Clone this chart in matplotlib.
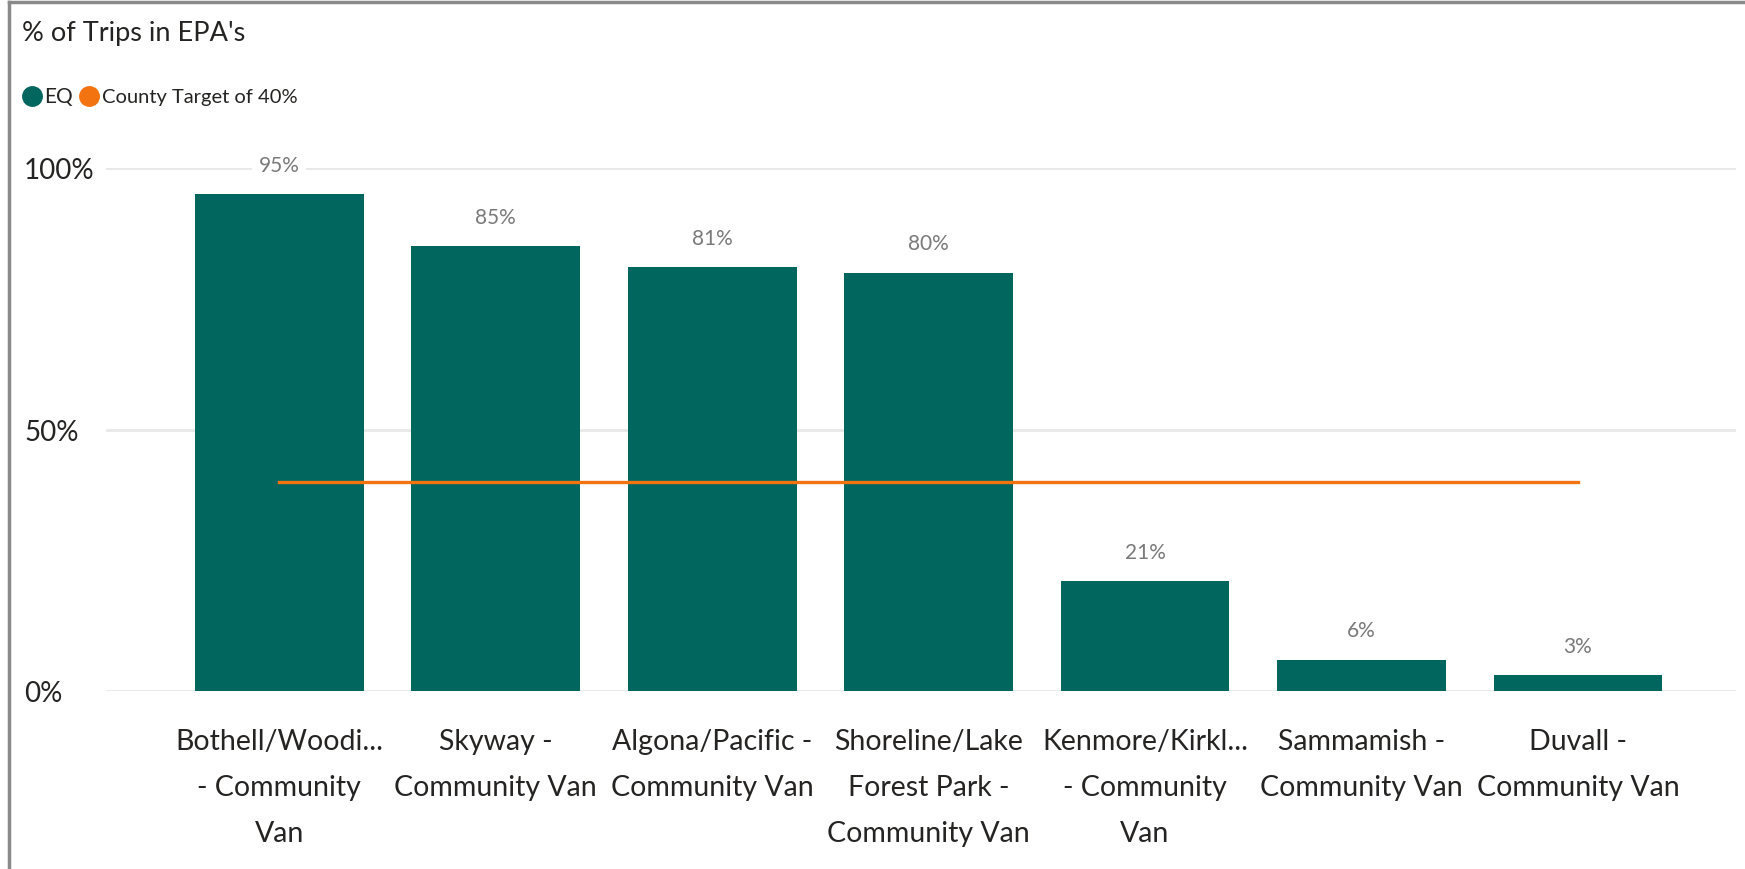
"""
% of Trips in EPA's - community van bar chart with county target line
"""
import matplotlib.pyplot as plt
from matplotlib.lines import Line2D

routes = ["Bothell/Woodi...\n- Community\nVan",
          "Skyway -\nCommunity Van",
          "Algona/Pacific -\nCommunity Van",
          "Shoreline/Lake\nForest Park -\nCommunity Van",
          "Kenmore/Kirkl...\n- Community\nVan",
          "Sammamish -\nCommunity Van",
          "Duvall -\nCommunity Van"]
eq_pct = [95, 85, 81, 80, 21, 6, 3]
target_pct = [40, 40, 40, 40, 40, 40, 40]
y_ticks = [0, 50, 100]

TEAL = "#01665e"
ORANGE = "#f2730f"
TEXT = "#252423"

plt.rcParams['font.family'] = ['Lato', 'DejaVu Sans']

W, H = 1745, 870
fig = plt.figure(figsize=(W / 100, H / 100), dpi=100)
ax = fig.add_axes([106 / W, (H - 692) / H, (1736 - 106) / W, (692 - 169) / H])

x = list(range(len(routes)))
bars = ax.bar(x, eq_pct, width=0.78, color=TEAL, zorder=2)
ax.plot(x, target_pct, color=ORANGE, linewidth=2.4, zorder=3)

for rect, val in zip(bars, eq_pct):
    ax.annotate(f"{val}%", (rect.get_x() + rect.get_width() / 2, val),
                xytext=(0, 14), textcoords="offset points",
                ha="center", va="bottom", fontsize=15, color="#7a7a7a",
                bbox=dict(boxstyle="square,pad=0.3", fc="white", ec="none"),
                zorder=4, annotation_clip=False)

ax.set_xlim(-0.8, 6.73)
ax.set_ylim(0, 100)
ax.set_yticks(y_ticks)
ax.set_yticklabels([f"{v}%" for v in y_ticks])
for lab in ax.get_yticklabels():
    lab.set_ha("left")
ax.set_xticks(x)
ax.set_xticklabels(routes, linespacing=1.93)
ax.tick_params(axis="y", length=0, pad=59, labelsize=20, labelcolor=TEXT)
ax.tick_params(axis="x", length=0, pad=27, labelsize=20.5, labelcolor=TEXT)

ax.grid(axis="y", color="#e8e8e8", linewidth=2, zorder=0)
ax.set_axisbelow(True)
for s in ax.spines.values():
    s.set_visible(False)

# title and legend
fig.text(22 / W, 1 - 33 / H, "% of Trips in EPA's", fontsize=19.5,
         color=TEXT, ha="left", va="center")
fig.add_artist(Line2D([32 / W], [1 - 97 / H], marker="o", markersize=14,
                      color=TEAL, linestyle="none"))
fig.text(44 / W, 1 - 97 / H, "EQ", fontsize=15, color=TEXT,
         ha="left", va="center")
fig.add_artist(Line2D([89 / W], [1 - 97 / H], marker="o", markersize=14,
                      color=ORANGE, linestyle="none"))
fig.text(102 / W, 1 - 97 / H, "County Target of 40%", fontsize=14.5,
         color=TEXT, ha="left", va="center")

# visual frame (left and top edges)
fig.add_artist(Line2D([9 / W, 9 / W], [0, 1 - 3 / H], color="#8a8a8a",
                      linewidth=2.5))
fig.add_artist(Line2D([9 / W, 1], [1 - 3 / H, 1 - 3 / H], color="#8a8a8a",
                      linewidth=2.5))

fig.savefig("out.png", dpi=100)
